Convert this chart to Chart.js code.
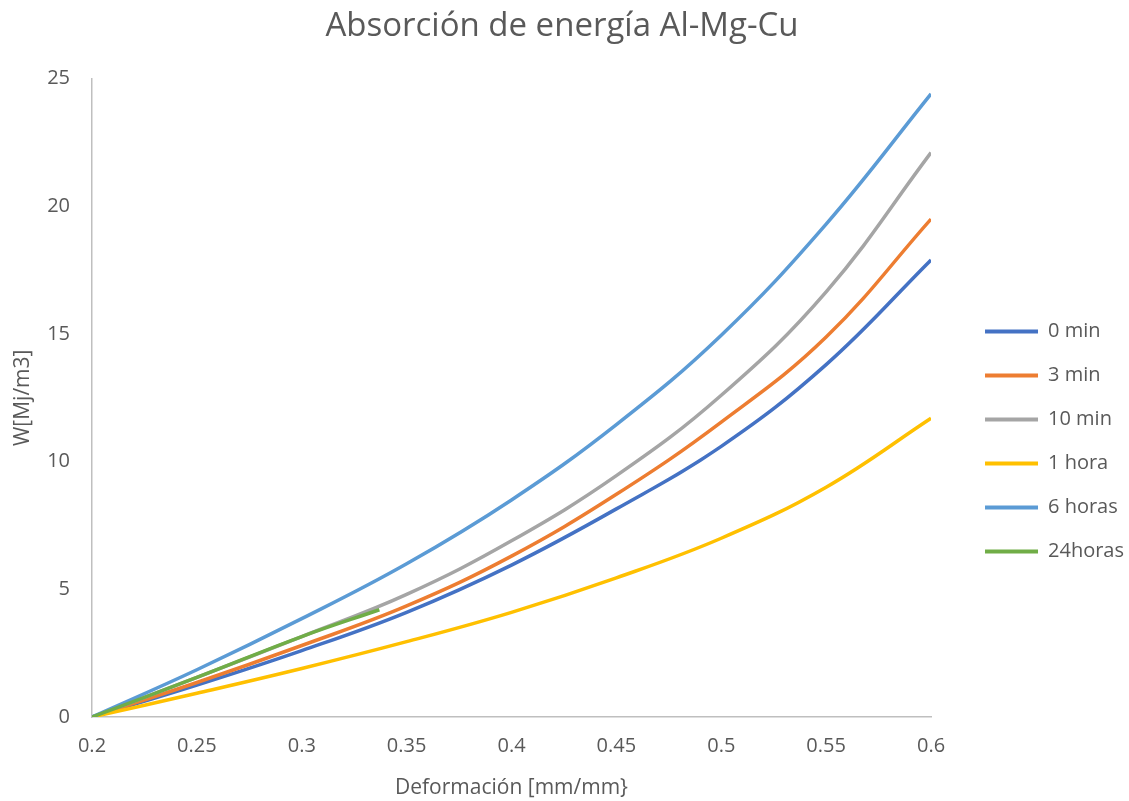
<!DOCTYPE html>
<html>
<head>
<meta charset="utf-8">
<script src="https://cdn.jsdelivr.net/npm/chart.js@4.4.1/dist/chart.umd.min.js"></script>
<style>
  html, body { margin: 0; padding: 0; background: #fff; }
  #wrap { width: 1129px; height: 801px; }
</style>
</head>
<body>
<div id="wrap"><canvas id="chart" width="1129" height="801"></canvas></div>
<script>
// deformación [mm/mm]
const strain = [0.2, 0.25, 0.3, 0.35, 0.4, 0.45, 0.5, 0.55, 0.6];
const min0   = [0, 1.25, 2.6, 4.1, 5.95, 8.15, 10.6, 13.8, 17.9];
const min3   = [0, 1.35, 2.8, 4.35, 6.3, 8.72, 11.55, 14.88, 19.5];
const min10  = [0, 1.55, 3.15, 4.8, 6.9, 9.45, 12.6, 16.65, 22.1];
const hora1  = [0, 0.93, 1.9, 2.95, 4.1, 5.45, 7.0, 9.0, 11.7];
const horas6 = [0, 1.85, 3.85, 6.0, 8.5, 11.45, 14.95, 19.3, 24.4];
// 24 horas solo llega hasta ~0.337
const strain24 = [0.2, 0.25, 0.3, 0.337];
const horas24  = [0, 1.55, 3.15, 4.2];

const seriesNames = ['0 min', '3 min', '10 min', '1 hora', '6 horas', '24horas'];
const colors = ['#4472C4', '#ED7D31', '#A5A5A5', '#FFC000', '#5B9BD5', '#70AD47'];

const toPoints = (xs, ys) => xs.map((x, i) => ({ x: x, y: ys[i] }));
const allData = [
    toPoints(strain, min0),
    toPoints(strain, min3),
    toPoints(strain, min10),
    toPoints(strain, hora1),
    toPoints(strain, horas6),
    toPoints(strain24, horas24)
];

const FONT = "'Open Sans', sans-serif";
const GREY = '#595959';

const datasets = allData.map((pts, i) => ({
    label: seriesNames[i],
    data: pts,
    borderColor: colors[i],
    backgroundColor: colors[i],
    borderWidth: 3.5,
    pointRadius: 0,
    tension: 0.4,
    order: -i // las series posteriores quedan encima
}));

// mueve la leyenda y el título a la derecha sin cambiar el área del gráfico
const boxShift = {
    id: 'boxShift',
    afterLayout(chart) {
        const lg = chart.legend;
        if (lg) { lg.left += 30; lg.right += 30; }
        const tb = chart.titleBlock;
        if (tb) { tb.left += 10; tb.right += 10; }
    }
};

new Chart(document.getElementById('chart'), {
    type: 'line',
    data: { datasets: datasets },
    plugins: [boxShift],
    options: {
        responsive: false,
        animation: false,
        layout: { padding: { left: 0, right: 25, top: 0, bottom: 0 } },
        plugins: {
            title: {
                display: true,
                text: 'Absorción de energía Al-Mg-Cu',
                color: GREY,
                font: { family: FONT, size: 33, weight: 'normal' },
                padding: { top: 7, bottom: 32 }
            },
            legend: {
                position: 'right',
                title: {
                    display: true,
                    text: ' ',
                    font: { size: 10 },
                    padding: { top: 70, bottom: 0 }
                },
                labels: {
                    color: GREY,
                    font: { family: FONT, size: 20 },
                    boxWidth: 53,
                    boxHeight: 4,
                    padding: 24,
                    generateLabels: (chart) => chart.data.datasets.map((ds, i) => ({
                        text: ds.label,
                        fillStyle: ds.borderColor,
                        strokeStyle: ds.borderColor,
                        lineWidth: 0,
                        fontColor: GREY,
                        datasetIndex: i
                    }))
                }
            },
            tooltip: { enabled: false }
        },
        scales: {
            x: {
                type: 'linear',
                min: 0.2,
                max: 0.6,
                ticks: {
                    stepSize: 0.05,
                    color: GREY,
                    font: { family: FONT, size: 20 },
                    padding: 9,
                    callback: (v) => String(+v.toFixed(2))
                },
                grid: { display: false },
                border: { display: true, color: '#BFBFBF', width: 1.5 },
                title: {
                    display: true,
                    text: 'Deformación [mm/mm}',
                    color: GREY,
                    font: { family: FONT, size: 21 },
                    padding: { top: 4, bottom: 0 }
                },
                afterFit: (scale) => { scale.height = 84; }
            },
            y: {
                min: 0,
                max: 25,
                ticks: {
                    stepSize: 5,
                    color: GREY,
                    font: { family: FONT, size: 20 },
                    padding: 14
                },
                grid: { display: false },
                border: { display: true, color: '#BFBFBF', width: 1.5 },
                title: {
                    display: true,
                    text: 'W[Mj/m3]',
                    color: GREY,
                    font: { family: FONT, size: 21 },
                    padding: { top: 10, bottom: 4 }
                },
                afterFit: (scale) => { scale.width = 92; }
            }
        }
    }
});
</script>
</body>
</html>
